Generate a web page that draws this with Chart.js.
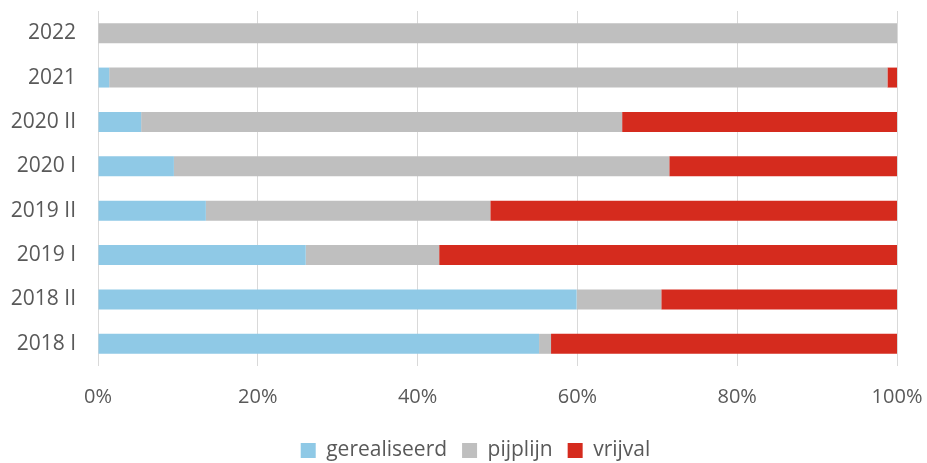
<!DOCTYPE html>
<html lang="nl">
<head>
    <meta charset="UTF-8">
    <title>Gerealiseerd / pijplijn / vrijval</title>
    <script src="https://cdn.jsdelivr.net/npm/chart.js"></script>
    <style>
        html, body {
            margin: 0;
            padding: 0;
            background: #ffffff;
        }
        .wrap {
            width: 927px;
            height: 463px;
        }
    </style>
</head>
<body>
    <div class="wrap">
        <canvas id="chart" width="927" height="463"></canvas>
    </div>

    <script>
        // periods, top to bottom
        const periods = ['2022', '2021', '2020 II', '2020 I', '2019 II', '2019 I', '2018 II', '2018 I'];

        // share per period, in %
        const gerealiseerd = [0, 1.4, 5.4, 9.5, 13.5, 26.0, 59.9, 55.2];
        const pijplijn = [100, 97.4, 60.2, 62.0, 35.6, 16.7, 10.6, 1.5];
        const vrijval = [0, 1.2, 34.4, 28.5, 50.9, 57.3, 29.5, 43.3];

        const xTicks = [0, 20, 40, 60, 80, 100];

        const font = "'Open Sans', 'Liberation Sans', sans-serif";
        const textColor = '#595959';

        // legend in the original sits a bit right of the canvas centre
        const legendShift = {
            id: 'legendShift',
            afterLayout(chart) {
                chart.legend.left += 27;
                chart.legend.right += 27;
            }
        };

        const ctx = document.getElementById('chart').getContext('2d');
        new Chart(ctx, {
            type: 'bar',
            data: {
                labels: periods,
                datasets: [
                    { label: 'gerealiseerd', data: gerealiseerd, backgroundColor: '#8fc9e6' },
                    { label: 'pijplijn', data: pijplijn, backgroundColor: '#bfbfbf' },
                    { label: 'vrijval', data: vrijval, backgroundColor: '#d52b1e' }
                ]
            },
            plugins: [legendShift],
            options: {
                indexAxis: 'y',
                responsive: false,
                animation: false,
                layout: { padding: { top: 11, right: 30, left: 0, bottom: -8 } },
                datasets: {
                    bar: { barPercentage: 0.9, categoryPercentage: 0.5, borderWidth: 0 }
                },
                scales: {
                    x: {
                        stacked: true,
                        min: 0,
                        max: 100,
                        afterBuildTicks: (scale) => {
                            scale.ticks = xTicks.map(v => ({ value: v }));
                        },
                        afterFit: (scale) => {
                            scale.height = 59;
                            scale.paddingLeft = 0;
                            scale.paddingRight = 0;
                        },
                        grid: { color: '#d9d9d9', lineWidth: 1, drawTicks: false },
                        border: { display: false },
                        ticks: {
                            padding: 19,
                            color: textColor,
                            font: { family: font, size: 20 },
                            callback: (v) => v + '%'
                        }
                    },
                    y: {
                        stacked: true,
                        afterFit: (scale) => {
                            scale.width = 98;
                            scale.paddingTop = 0;
                            scale.paddingBottom = 0;
                        },
                        grid: { display: false, drawTicks: false },
                        border: { display: false },
                        ticks: {
                            padding: 22,
                            color: textColor,
                            font: { family: font, size: 21 }
                        }
                    }
                },
                plugins: {
                    legend: {
                        position: 'bottom',
                        labels: {
                            boxWidth: 15,
                            boxHeight: 15,
                            padding: 15,
                            color: textColor,
                            font: { family: font, size: 21 }
                        }
                    },
                    tooltip: { enabled: false }
                }
            }
        });
    </script>
</body>
</html>
